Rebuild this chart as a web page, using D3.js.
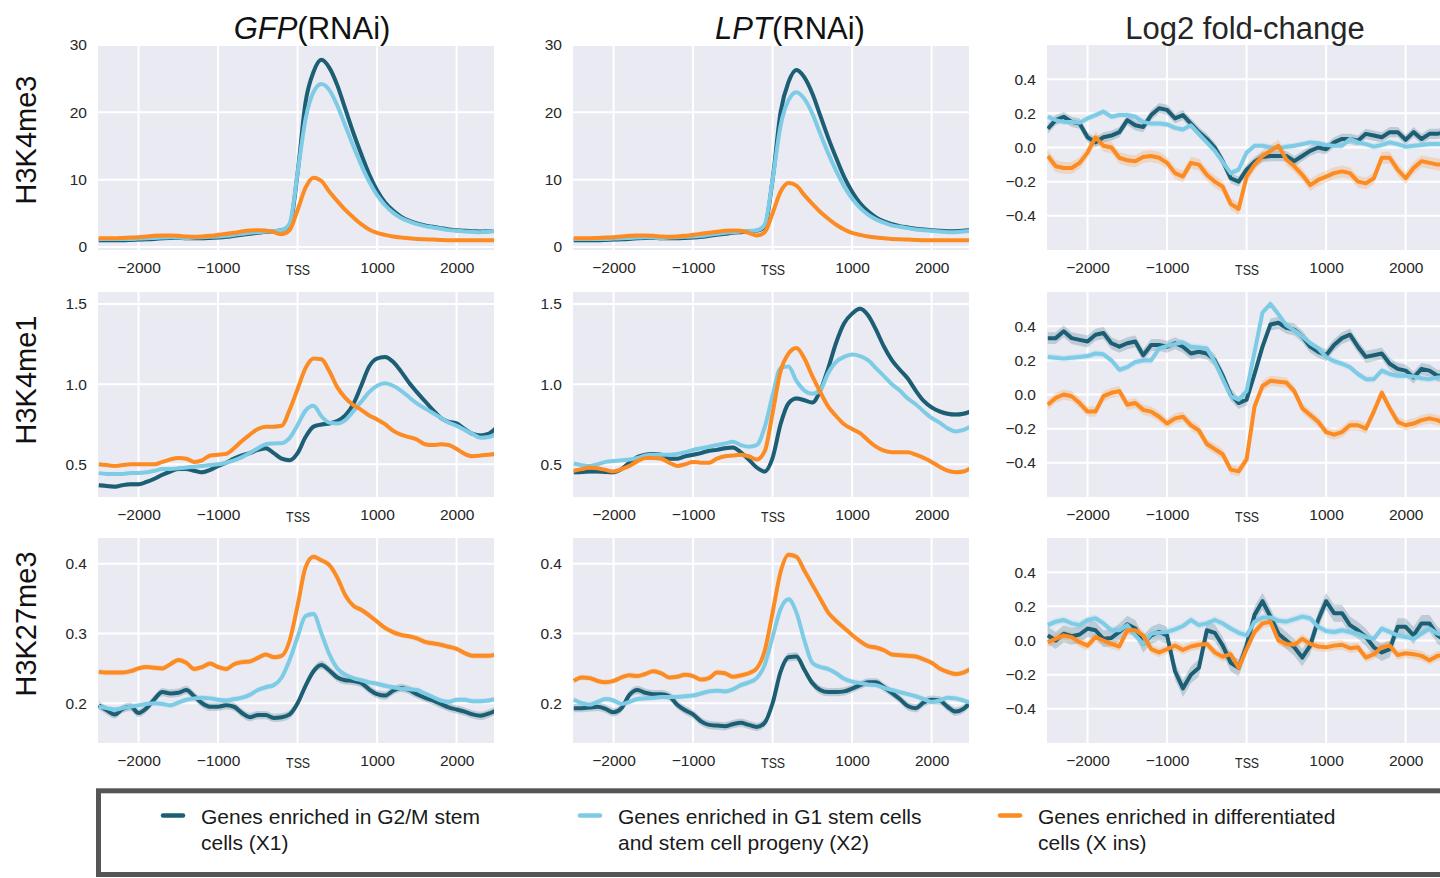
<!DOCTYPE html>
<html><head><meta charset="utf-8">
<script src="https://cdn.jsdelivr.net/npm/d3@7"></script>
<style>
body{margin:0;background:#fff;overflow:hidden}
svg{display:block}
text{font-family:"Liberation Sans",Arial,sans-serif}
</style></head>
<body><svg id="chart" width="1440" height="878"></svg>
<script>
// ---------- DATA ----------
const positions = [-2500,-2400,-2300,-2200,-2100,-2000,-1900,-1800,-1700,-1600,-1500,-1400,-1300,-1200,-1100,-1000,-900,-800,-700,-600,-500,-400,-300,-200,-100,0,100,200,300,400,500,600,700,800,900,1000,1100,1200,1300,1400,1500,1600,1700,1800,1900,2000,2100,2200,2300,2400,2500];
const columnTitles = [["GFP","(RNAi)"],["LPT","(RNAi)"],["","Log2 fold-change"]];
const rowLabels = ["H3K4me3","H3K4me1","H3K27me3"];
const seriesNames = [["Genes enriched in G2/M stem","cells (X1)"],["Genes enriched in G1 stem cells","and stem cell progeny (X2)"],["Genes enriched in differentiated","cells (X ins)"]];
const xTicks = [-2000,-1000,0,1000,2000];
const xTickLabels = ["\u22122000","\u22121000","TSS","1000","2000"];
const yTicksRows = [[0,10,20,30],[0.5,1.0,1.5],[0.2,0.3,0.4]];
const yTicksLog2 = [-0.4,-0.2,0.0,0.2,0.4];
const yDomainsRows = [[-0.45,30],[0.296,1.575],[0.143,0.437]];
const yDomainLog2 = [-0.6,0.6];

// Row 0: H3K4me3
const gfpK4me3_X1 = [1.0,1.0,1.0,1.0,1.05,1.1,1.15,1.2,1.3,1.35,1.35,1.3,1.3,1.3,1.35,1.4,1.5,1.65,1.8,1.95,2.1,2.25,2.35,2.5,3.2,11,21.5,26,27.8,26.6,24,20.5,17,13.8,10.8,8.4,6.6,5.4,4.5,3.9,3.5,3.2,3.0,2.8,2.6,2.5,2.4,2.35,2.3,2.35,2.4];
const gfpK4me3_X2 = [1.2,1.2,1.2,1.2,1.2,1.25,1.3,1.35,1.4,1.45,1.4,1.35,1.4,1.45,1.5,1.55,1.65,1.8,1.95,2.1,2.2,2.3,2.35,2.5,3.5,11,19,23,24.2,23.3,21,18,15,12.2,9.7,7.7,6.2,5.1,4.3,3.8,3.4,3.1,2.9,2.7,2.5,2.4,2.3,2.25,2.2,2.3,2.4];
const gfpK4me3_Xins = [1.3,1.3,1.3,1.35,1.4,1.45,1.55,1.65,1.7,1.7,1.65,1.55,1.5,1.55,1.65,1.8,1.95,2.1,2.3,2.45,2.5,2.45,2.2,1.9,2.5,5.5,8.8,10.3,9.8,8.2,6.8,5.5,4.4,3.4,2.6,2.1,1.8,1.55,1.4,1.3,1.2,1.15,1.1,1.05,1.0,1.0,1.0,1.0,1.0,1.0,1.0];
const lptK4me3_X1 = [1.0,1.0,1.0,1.0,1.05,1.1,1.15,1.2,1.3,1.35,1.35,1.3,1.3,1.3,1.35,1.4,1.5,1.65,1.8,1.95,2.1,2.2,2.3,2.4,3.0,10,20,24.5,26.3,25.2,22.8,19.5,16.2,13.2,10.4,8.2,6.5,5.3,4.4,3.8,3.4,3.1,2.9,2.7,2.6,2.5,2.4,2.35,2.35,2.4,2.5];
const lptK4me3_X2 = [1.2,1.2,1.2,1.2,1.2,1.25,1.3,1.35,1.4,1.45,1.4,1.35,1.4,1.45,1.5,1.55,1.65,1.8,1.95,2.1,2.2,2.3,2.35,2.45,3.3,10,18,21.8,23,22,19.8,16.8,13.9,11.3,9.0,7.2,5.8,4.8,4.1,3.6,3.2,3.0,2.8,2.6,2.5,2.4,2.3,2.2,2.2,2.3,2.4];
const lptK4me3_Xins = [1.3,1.3,1.3,1.35,1.4,1.45,1.55,1.65,1.7,1.7,1.65,1.55,1.5,1.55,1.65,1.8,1.95,2.1,2.25,2.4,2.45,2.4,2.1,1.7,2.2,5.0,8.2,9.5,9.1,7.7,6.4,5.2,4.2,3.3,2.6,2.1,1.8,1.55,1.4,1.3,1.2,1.15,1.1,1.05,1.0,1.0,1.0,1.0,1.0,1.0,1.0];

// Row 1: H3K4me1
const gfpK4me1_X1 = [0.37,0.365,0.36,0.37,0.375,0.375,0.39,0.41,0.435,0.455,0.47,0.47,0.46,0.45,0.465,0.49,0.51,0.535,0.555,0.57,0.59,0.60,0.57,0.535,0.525,0.57,0.67,0.735,0.748,0.755,0.77,0.805,0.875,0.99,1.11,1.16,1.17,1.14,1.08,1.01,0.95,0.895,0.84,0.79,0.765,0.755,0.72,0.69,0.68,0.69,0.73];
const gfpK4me1_X2 = [0.445,0.44,0.44,0.44,0.445,0.445,0.45,0.46,0.47,0.47,0.475,0.48,0.485,0.49,0.495,0.50,0.51,0.525,0.545,0.57,0.60,0.625,0.63,0.632,0.665,0.745,0.835,0.865,0.80,0.76,0.755,0.775,0.83,0.89,0.95,0.99,1.005,0.99,0.96,0.92,0.88,0.85,0.82,0.79,0.76,0.74,0.715,0.69,0.665,0.67,0.685];
const gfpK4me1_Xins = [0.50,0.495,0.49,0.495,0.50,0.50,0.50,0.50,0.515,0.53,0.54,0.535,0.515,0.525,0.555,0.56,0.565,0.60,0.645,0.685,0.72,0.735,0.735,0.74,0.84,0.97,1.10,1.16,1.155,1.08,0.98,0.915,0.87,0.84,0.805,0.78,0.75,0.71,0.685,0.67,0.655,0.625,0.62,0.625,0.62,0.595,0.565,0.55,0.555,0.56,0.565];
const lptK4me1_X1 = [0.45,0.452,0.455,0.455,0.452,0.45,0.47,0.51,0.545,0.56,0.565,0.56,0.535,0.535,0.55,0.56,0.57,0.585,0.59,0.60,0.605,0.575,0.53,0.48,0.455,0.54,0.75,0.88,0.91,0.90,0.885,0.96,1.10,1.26,1.38,1.44,1.47,1.43,1.34,1.235,1.15,1.09,1.035,0.96,0.895,0.855,0.83,0.815,0.81,0.815,0.83];
const lptK4me1_X2 = [0.505,0.495,0.49,0.50,0.515,0.52,0.525,0.53,0.54,0.555,0.56,0.56,0.56,0.565,0.575,0.59,0.60,0.61,0.62,0.63,0.64,0.62,0.61,0.62,0.73,0.93,1.10,1.11,1.02,0.96,0.94,0.965,1.07,1.14,1.17,1.185,1.175,1.15,1.10,1.05,1.00,0.96,0.91,0.875,0.83,0.79,0.76,0.725,0.705,0.715,0.74];
const lptK4me1_Xins = [0.46,0.47,0.48,0.475,0.465,0.455,0.47,0.49,0.52,0.54,0.54,0.535,0.51,0.49,0.50,0.515,0.51,0.51,0.535,0.55,0.555,0.56,0.55,0.53,0.58,0.82,1.08,1.19,1.225,1.16,1.05,0.95,0.86,0.80,0.75,0.72,0.695,0.65,0.61,0.585,0.575,0.575,0.575,0.56,0.54,0.515,0.485,0.46,0.45,0.455,0.48];

// Row 2: H3K27me3
const gfpK27me3_X1 = [0.197,0.19,0.184,0.192,0.195,0.186,0.193,0.206,0.216,0.214,0.215,0.219,0.21,0.2,0.195,0.195,0.197,0.195,0.186,0.18,0.183,0.183,0.179,0.18,0.184,0.2,0.225,0.246,0.255,0.247,0.237,0.233,0.232,0.229,0.22,0.213,0.211,0.218,0.222,0.219,0.213,0.208,0.204,0.199,0.194,0.191,0.188,0.184,0.182,0.185,0.19];
const gfpK27me3_X2 = [0.195,0.193,0.191,0.193,0.195,0.197,0.199,0.2,0.199,0.197,0.201,0.205,0.207,0.208,0.207,0.205,0.204,0.206,0.208,0.212,0.219,0.223,0.226,0.237,0.262,0.295,0.325,0.328,0.30,0.27,0.25,0.241,0.236,0.233,0.23,0.228,0.225,0.223,0.221,0.22,0.219,0.214,0.209,0.204,0.202,0.205,0.205,0.203,0.203,0.204,0.206];
const gfpK27me3_Xins = [0.245,0.244,0.244,0.244,0.246,0.25,0.252,0.251,0.25,0.256,0.262,0.258,0.249,0.252,0.257,0.252,0.249,0.256,0.259,0.26,0.265,0.27,0.266,0.268,0.29,0.34,0.395,0.41,0.405,0.398,0.38,0.355,0.34,0.334,0.326,0.317,0.308,0.302,0.298,0.296,0.293,0.288,0.286,0.284,0.281,0.278,0.272,0.268,0.268,0.268,0.27];
const lptK27me3_X1 = [0.193,0.193,0.194,0.195,0.192,0.187,0.193,0.212,0.219,0.215,0.213,0.213,0.21,0.198,0.19,0.184,0.174,0.169,0.168,0.167,0.17,0.172,0.169,0.166,0.172,0.2,0.245,0.266,0.267,0.248,0.229,0.219,0.216,0.216,0.217,0.221,0.226,0.23,0.23,0.223,0.215,0.206,0.196,0.193,0.201,0.205,0.204,0.195,0.188,0.192,0.203];
const lptK27me3_X2 = [0.205,0.2,0.198,0.202,0.206,0.204,0.199,0.202,0.206,0.207,0.208,0.209,0.209,0.209,0.21,0.211,0.214,0.217,0.218,0.217,0.22,0.226,0.23,0.236,0.255,0.295,0.335,0.349,0.33,0.29,0.258,0.252,0.249,0.243,0.235,0.231,0.229,0.227,0.226,0.222,0.219,0.216,0.213,0.21,0.206,0.202,0.204,0.208,0.207,0.204,0.2];
const lptK27me3_Xins = [0.232,0.237,0.236,0.232,0.23,0.232,0.237,0.24,0.239,0.242,0.246,0.243,0.237,0.238,0.241,0.239,0.234,0.236,0.244,0.243,0.238,0.24,0.243,0.25,0.275,0.33,0.388,0.413,0.41,0.39,0.37,0.35,0.33,0.318,0.308,0.298,0.289,0.282,0.28,0.276,0.27,0.269,0.268,0.267,0.263,0.258,0.25,0.245,0.242,0.244,0.25];

// Log2 fold-change (LPT vs GFP)
const log2K4me3_X1 = [0.11,0.16,0.18,0.15,0.14,0.06,0.03,0.06,0.07,0.09,0.16,0.13,0.12,0.19,0.23,0.22,0.17,0.19,0.14,0.09,0.05,0.0,-0.08,-0.18,-0.2,-0.13,-0.085,-0.055,-0.05,-0.05,-0.05,-0.08,-0.05,-0.02,0.0,-0.01,0.03,0.05,0.05,0.04,0.08,0.07,0.06,0.09,0.09,0.045,0.09,0.05,0.08,0.08,0.09];
const log2K4me3_X2 = [0.18,0.16,0.15,0.15,0.145,0.17,0.19,0.21,0.18,0.19,0.19,0.18,0.15,0.14,0.14,0.135,0.115,0.105,0.13,0.08,0.03,-0.02,-0.085,-0.15,-0.13,-0.03,0.01,0.01,0.0,-0.005,0.005,0.01,0.02,0.03,0.025,0.015,0.01,0.01,0.05,0.03,0.02,0.005,0.015,0.03,0.02,0.005,0.01,0.015,0.02,0.02,0.02];
const log2K4me3_Xins = [-0.05,-0.11,-0.12,-0.12,-0.09,-0.03,0.06,0.01,0.0,-0.06,-0.075,-0.08,-0.055,-0.05,-0.06,-0.09,-0.15,-0.17,-0.09,-0.1,-0.16,-0.2,-0.23,-0.33,-0.36,-0.17,-0.1,-0.05,-0.02,0.01,-0.07,-0.11,-0.16,-0.22,-0.19,-0.17,-0.15,-0.14,-0.15,-0.2,-0.21,-0.18,-0.06,-0.06,-0.13,-0.18,-0.12,-0.08,-0.09,-0.1,-0.1];
const log2K4me1_X1 = [0.33,0.33,0.37,0.33,0.32,0.31,0.35,0.36,0.3,0.28,0.3,0.31,0.23,0.29,0.29,0.28,0.3,0.28,0.24,0.25,0.24,0.2,0.11,0.0,-0.05,-0.03,0.12,0.28,0.41,0.42,0.39,0.38,0.34,0.28,0.25,0.23,0.29,0.33,0.35,0.28,0.22,0.23,0.24,0.18,0.15,0.14,0.1,0.15,0.14,0.11,0.11];
const log2K4me1_X2 = [0.22,0.215,0.21,0.215,0.22,0.225,0.24,0.235,0.2,0.145,0.16,0.19,0.2,0.2,0.27,0.285,0.295,0.305,0.28,0.275,0.27,0.19,0.09,-0.01,-0.03,0.02,0.25,0.48,0.53,0.47,0.405,0.375,0.34,0.3,0.27,0.22,0.195,0.18,0.16,0.12,0.09,0.09,0.14,0.12,0.11,0.11,0.105,0.095,0.09,0.1,0.105];
const log2K4me1_Xins = [-0.06,-0.02,0.0,-0.01,-0.05,-0.1,-0.1,-0.01,0.01,0.02,-0.06,-0.05,-0.09,-0.1,-0.13,-0.17,-0.14,-0.13,-0.18,-0.21,-0.29,-0.32,-0.35,-0.44,-0.45,-0.38,-0.07,0.05,0.08,0.075,0.07,0.02,-0.08,-0.12,-0.16,-0.22,-0.235,-0.22,-0.18,-0.18,-0.2,-0.1,0.01,-0.08,-0.16,-0.18,-0.17,-0.15,-0.14,-0.15,-0.17];
const log2K27me3_X1 = [0.03,0.0,0.04,0.025,0.035,0.07,0.06,0.01,0.015,0.05,0.095,0.07,-0.02,0.03,0.05,0.03,-0.18,-0.28,-0.2,-0.16,0.06,0.045,-0.03,-0.13,-0.16,-0.03,0.15,0.23,0.14,0.04,0.0,-0.04,-0.1,-0.03,0.12,0.23,0.16,0.16,0.09,0.06,0.02,-0.04,-0.07,-0.05,0.08,0.08,0.03,0.1,0.1,0.03,0.0];
const log2K27me3_X2 = [0.09,0.11,0.12,0.1,0.09,0.12,0.13,0.1,0.06,0.06,0.09,0.03,-0.02,0.04,0.045,0.05,0.065,0.085,0.12,0.09,0.1,0.12,0.1,0.07,0.045,0.03,0.11,0.135,0.135,0.115,0.11,0.125,0.14,0.13,0.08,0.055,0.05,0.06,0.05,0.04,0.02,0.01,0.07,0.05,0.03,0.02,0.01,0.04,0.07,0.04,0.03];
const log2K27me3_Xins = [-0.01,0.01,0.03,0.02,-0.01,-0.03,0.02,0.0,-0.02,-0.035,0.06,0.06,0.03,-0.05,-0.07,-0.05,-0.03,-0.055,-0.035,-0.025,-0.02,-0.07,-0.095,-0.08,-0.16,-0.05,0.05,0.1,0.11,0.0,-0.02,-0.025,0.01,-0.02,-0.035,-0.04,-0.03,-0.025,-0.045,-0.04,-0.1,-0.08,-0.04,-0.03,-0.085,-0.075,-0.08,-0.09,-0.115,-0.09,-0.085];

// Half-width of the shaded confidence band, per panel row kind, per series
const bandHalfWidth = [[0.3,0.2,0.12],[0.014,0.008,0.01],[0.006,0.004,0.004]];
const bandHalfWidthLog2 = [[0.03,0.018,0.035],[0.035,0.02,0.03],[0.05,0.022,0.028]];

const seriesColors = ["#1c5e74","#7ecbe6","#fb8b22"];

// ---------- LAYOUT ----------
const svg = d3.select("#chart");
const colLeft = [98, 573, 1047];
const rowTop = [45, 292, 538];
const panelW = 396, panelH = 205;
const xDomain = [-2510, 2470];

const panelData = [
  [[gfpK4me3_X1,gfpK4me3_X2,gfpK4me3_Xins],[lptK4me3_X1,lptK4me3_X2,lptK4me3_Xins],[log2K4me3_X1,log2K4me3_X2,log2K4me3_Xins]],
  [[gfpK4me1_X1,gfpK4me1_X2,gfpK4me1_Xins],[lptK4me1_X1,lptK4me1_X2,lptK4me1_Xins],[log2K4me1_X1,log2K4me1_X2,log2K4me1_Xins]],
  [[gfpK27me3_X1,gfpK27me3_X2,gfpK27me3_Xins],[lptK27me3_X1,lptK27me3_X2,lptK27me3_Xins],[log2K27me3_X1,log2K27me3_X2,log2K27me3_Xins]]
];

const defs = svg.append("defs");
const tickColor = "#262626";

for (let r = 0; r < 3; r++) {
  for (let c = 0; c < 3; c++) {
    const isLog = c === 2;
    const x = d3.scaleLinear().domain(xDomain).range([0, panelW]);
    const y = d3.scaleLinear().domain(isLog ? yDomainLog2 : yDomainsRows[r]).range([panelH, 0]);
    const yTicks = isLog ? yTicksLog2 : yTicksRows[r];
    const g = svg.append("g").attr("transform", `translate(${colLeft[c]},${rowTop[r]})`);
    const clipId = `clip-${r}-${c}`;
    defs.append("clipPath").attr("id", clipId).append("rect").attr("width", panelW).attr("height", panelH);

    g.append("rect").attr("width", panelW).attr("height", panelH).attr("fill", "#eaeaf2");
    // grid
    g.append("g").selectAll("line").data(xTicks).join("line")
      .attr("x1", d => x(d)).attr("x2", d => x(d)).attr("y1", 0).attr("y2", panelH)
      .attr("stroke", "#fff").attr("stroke-width", 2);
    g.append("g").selectAll("line").data(yTicks).join("line")
      .attr("y1", d => y(d)).attr("y2", d => y(d)).attr("x1", 0).attr("x2", panelW)
      .attr("stroke", "#fff").attr("stroke-width", 2);

    // x axis
    const xa = g.append("g").attr("transform", `translate(0,${panelH})`)
      .call(d3.axisBottom(x).tickValues(xTicks).tickSize(0).tickPadding(0)
        .tickFormat((d, i) => xTickLabels[i]));
    xa.select(".domain").remove();
    xa.selectAll("text").attr("fill", tickColor).attr("font-size", 15.5)
      .attr("font-family", '"Liberation Sans",Arial,sans-serif')
      .attr("y", 23).attr("dy", 0);
    xa.selectAll("text").filter(d => d === 0)
      .attr("font-size", 14).attr("y", 25)
      .attr("textLength", 24).attr("lengthAdjust", "spacingAndGlyphs");

    // y axis
    const fmt = (!isLog && r === 0) ? d3.format("d") : d3.format(".1f");
    const ya = g.append("g")
      .call(d3.axisLeft(y).tickValues(yTicks).tickSize(0).tickPadding(11).tickFormat(fmt));
    ya.select(".domain").remove();
    ya.selectAll("text").attr("fill", tickColor).attr("font-size", 15.5)
      .attr("font-family", '"Liberation Sans",Arial,sans-serif');

    // series
    const plot = g.append("g").attr("clip-path", `url(#${clipId})`);
    const series = panelData[r][c];
    const curve = isLog ? d3.curveLinear : d3.curveMonotoneX;
    series.forEach((vals, s) => {
      const hw = isLog ? bandHalfWidthLog2[r][s] : bandHalfWidth[r][s];
      const area = d3.area().curve(curve)
        .x((d, i) => x(positions[i])).y0(d => y(d - hw)).y1(d => y(d + hw));
      plot.append("path").datum(vals).attr("d", area)
        .attr("fill", seriesColors[s]).attr("opacity", 0.22);
    });
    series.forEach((vals, s) => {
      const line = d3.line().curve(curve).x((d, i) => x(positions[i])).y(d => y(d));
      plot.append("path").datum(vals).attr("d", line)
        .attr("fill", "none").attr("stroke", seriesColors[s]).attr("stroke-width", 4)
        .attr("stroke-linejoin", "round").attr("stroke-linecap", "butt");
    });
  }
}

// column titles
const titleX = [312, 790, 1245];
columnTitles.forEach((t, c) => {
  const txt = svg.append("text").attr("x", titleX[c]).attr("y", 39)
    .attr("text-anchor", "middle").attr("font-size", 31)
    .attr("fill", c === 2 ? "#262626" : "#111");
  if (t[0]) txt.append("tspan").attr("font-style", "italic").text(t[0]);
  txt.append("tspan").text(t[1]);
});

// row labels
const rowLabelY = [140, 380, 624];
rowLabels.forEach((lab, r) => {
  svg.append("text").attr("transform", `translate(36,${rowLabelY[r]}) rotate(-90)`)
    .attr("text-anchor", "middle").attr("font-size", 29).attr("fill", "#111").text(lab);
});

// legend
const lg = svg.append("g");
lg.append("rect").attr("x", 98.5).attr("y", 790.8).attr("width", 1400).attr("height", 83.7)
  .attr("fill", "#fff").attr("stroke", "#555").attr("stroke-width", 5);
const legendX = [161, 578, 998];
seriesNames.forEach((nm, s) => {
  lg.append("line").attr("x1", legendX[s] + 2).attr("x2", legendX[s] + 22)
    .attr("y1", 815.5).attr("y2", 815.5).attr("stroke", seriesColors[s])
    .attr("stroke-width", 4.5).attr("stroke-linecap", "round");
  const t = lg.append("text").attr("font-size", 21).attr("fill", "#1a1a1a");
  t.append("tspan").attr("x", legendX[s] + 40).attr("y", 824).text(nm[0]);
  t.append("tspan").attr("x", legendX[s] + 40).attr("y", 850).text(nm[1]);
});
</script></body></html>
